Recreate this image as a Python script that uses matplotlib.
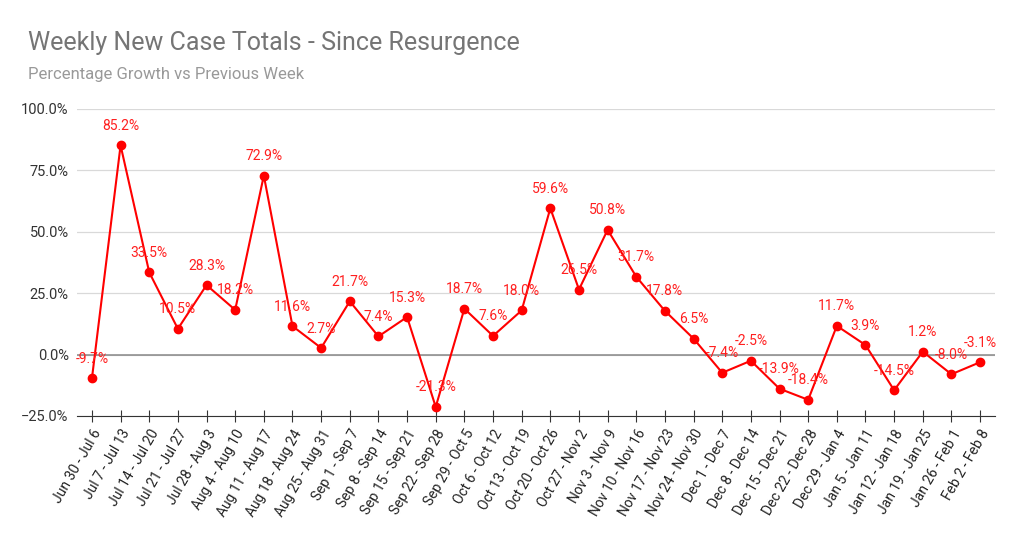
import matplotlib.pyplot as plt
from matplotlib.ticker import PercentFormatter

plt.rcParams['font.family'] = ['Roboto', 'DejaVu Sans']

# 주간 라벨과 증가율(%)
weeks = ['Jun 30 - Jul 6', 'Jul 7 - Jul 13', 'Jul 14 - Jul 20', 'Jul 21 - Jul 27',
         'Jul 28 - Aug 3', 'Aug 4 - Aug 10', 'Aug 11 - Aug 17', 'Aug 18 - Aug 24',
         'Aug 25 - Aug 31', 'Sep 1 - Sep 7', 'Sep 8 - Sep 14', 'Sep 15 - Sep 21',
         'Sep 22 - Sep 28', 'Sep 29 - Oct 5', 'Oct 6 - Oct 12', 'Oct 13 - Oct 19',
         'Oct 20 - Oct 26', 'Oct 27 - Nov 2', 'Nov 3 - Nov 9', 'Nov 10 - Nov 16',
         'Nov 17 - Nov 23', 'Nov 24 - Nov 30', 'Dec 1 - Dec 7', 'Dec 8 - Dec 14',
         'Dec 15 - Dec 21', 'Dec 22 - Dec 28', 'Dec 29 - Jan 4', 'Jan 5 - Jan 11',
         'Jan 12 - Jan 18', 'Jan 19 - Jan 25', 'Jan 26 - Feb 1', 'Feb 2 - Feb 8']
growth = [-9.7, 85.2, 33.5, 10.5, 28.3, 18.2, 72.9, 11.6, 2.7, 21.7, 7.4, 15.3,
          -21.3, 18.7, 7.6, 18.0, 59.6, 26.5, 50.8, 31.7, 17.8, 6.5, -7.4, -2.5,
          -13.9, -18.4, 11.7, 3.9, -14.5, 1.2, -8.0, -3.1]
y_ticks = [-25, 0, 25, 50, 75, 100]

fig = plt.figure(figsize=(10.23, 5.45), dpi=100)
ax = fig.add_axes([0.0753, 0.2367, 0.8973, 0.5633])

x = list(range(len(weeks)))
ax.plot(x, growth, color='#ff0000', linewidth=1.5, marker='o', markersize=6, zorder=3)

# 데이터 라벨
for xi, v in zip(x, growth):
    ax.annotate(f'{v:.1f}%', (xi, v), xytext=(0, 14), textcoords='offset points',
                ha='center', va='center', fontsize=10, color='#ff2020', zorder=4)

ax.set_xlim(-0.52, len(weeks) - 1 + 0.52)
ax.set_ylim(-25, 100)
ax.set_yticks(y_ticks)
ax.yaxis.set_major_formatter(PercentFormatter(decimals=1))
ax.set_xticks(x)
ax.set_xticklabels(weeks, rotation=60, ha='right', va='top', rotation_mode='anchor',
                   fontsize=10, color='#222222')

# 그리드 설정
ax.grid(True, axis='y', color='#d9d9d9', linewidth=0.9)
ax.axhline(0, color='#888888', linewidth=1.1, zorder=2)
for s in ['top', 'right', 'left']:
    ax.spines[s].set_visible(False)
ax.spines['bottom'].set_color('#333333')
ax.tick_params(axis='y', length=0, labelsize=10.5, labelcolor='#333333', pad=6)
ax.tick_params(axis='x', direction='inout', length=8, color='#333333', pad=4)

fig.text(0.027, 0.922, 'Weekly New Case Totals - Since Resurgence', fontsize=18,
         color='#757575', va='center')
fig.text(0.027, 0.864, 'Percentage Growth vs Previous Week', fontsize=12,
         color='#999999', va='center')

fig.savefig('out.png', dpi=100)
